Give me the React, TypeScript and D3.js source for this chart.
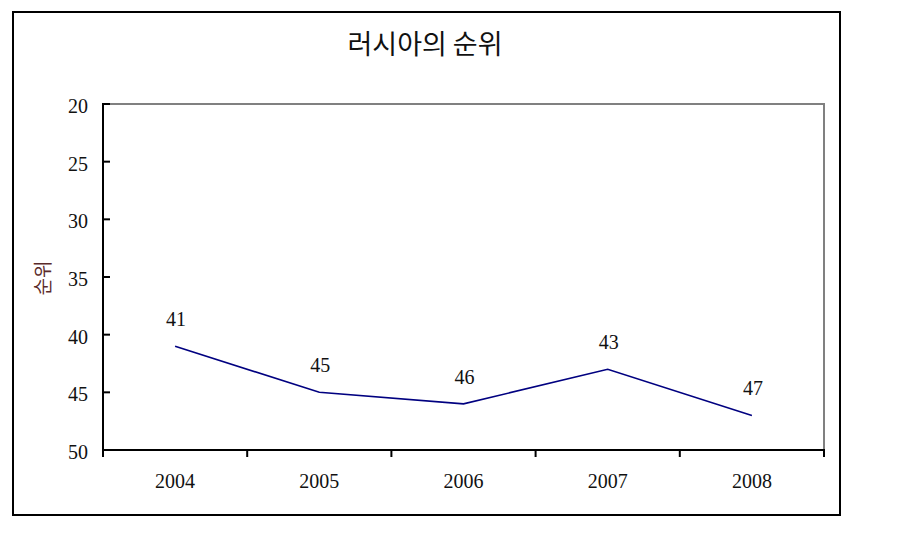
import { useEffect, useRef } from "react";
import * as d3 from "d3";

const years = ["2004", "2005", "2006", "2007", "2008"];
const ranks = [41, 45, 46, 43, 47];
const yTicks = [20, 25, 30, 35, 40, 45, 50];
const title = "러시아의 순위";
const yTitle = "순위";

export default function App() {
  const svgRef = useRef<SVGSVGElement | null>(null);

  useEffect(() => {
    const width = 898;
    const height = 546;
    const plot = { left: 103, right: 824, top: 104, bottom: 450 };
    const numFont = "'Liberation Serif', 'DejaVu Serif', serif";
    const krFont = "'Noto Sans CJK KR', sans-serif";

    const svg = d3.select(svgRef.current);
    svg.selectAll("*").remove();

    svg
      .append("rect")
      .attr("x", 13)
      .attr("y", 12)
      .attr("width", 827)
      .attr("height", 503)
      .attr("fill", "white")
      .attr("stroke", "black")
      .attr("stroke-width", 2);

    const x = d3.scaleBand().domain(years).range([plot.left, plot.right]);
    const y = d3.scaleLinear().domain([20, 50]).range([plot.top, plot.bottom]);

    // gray top and right frame
    svg
      .append("path")
      .attr("d", `M${plot.left},${plot.top}H${plot.right}V${plot.bottom}`)
      .attr("fill", "none")
      .attr("stroke", "#808080")
      .attr("stroke-width", 2);

    // y axis, ticks inside
    const yAxis = svg.append("g").attr("transform", `translate(${plot.left},0)`);
    yAxis
      .append("line")
      .attr("y1", plot.top - 1)
      .attr("y2", plot.bottom)
      .attr("stroke", "black")
      .attr("stroke-width", 2);
    yAxis
      .selectAll("line.tick")
      .data(yTicks)
      .join("line")
      .attr("class", "tick")
      .attr("x1", 0)
      .attr("x2", 7)
      .attr("y1", (d) => y(d))
      .attr("y2", (d) => y(d))
      .attr("stroke", "black")
      .attr("stroke-width", 2);
    yAxis
      .selectAll("text")
      .data(yTicks)
      .join("text")
      .attr("x", -15)
      .attr("y", (d) => y(d) + 9)
      .attr("text-anchor", "end")
      .attr("font-family", numFont)
      .attr("font-size", 20)
      .attr("fill", "#111")
      .text((d) => d);

    // x axis, boundary ticks below
    const xAxis = svg.append("g").attr("transform", `translate(0,${plot.bottom})`);
    xAxis
      .append("line")
      .attr("x1", plot.left - 1)
      .attr("x2", plot.right + 1)
      .attr("stroke", "black")
      .attr("stroke-width", 2);
    const bounds = years.map((d) => x(d) as number).concat([plot.right]);
    xAxis
      .selectAll("line.tick")
      .data(bounds)
      .join("line")
      .attr("class", "tick")
      .attr("x1", (d) => d)
      .attr("x2", (d) => d)
      .attr("y1", 0)
      .attr("y2", 7)
      .attr("stroke", "black")
      .attr("stroke-width", 2);
    xAxis
      .selectAll("text")
      .data(years)
      .join("text")
      .attr("x", (d) => (x(d) as number) + x.bandwidth() / 2)
      .attr("y", 38)
      .attr("text-anchor", "middle")
      .attr("font-family", numFont)
      .attr("font-size", 20)
      .attr("fill", "#111")
      .text((d) => d);

    const cx = (d: string) => (x(d) as number) + x.bandwidth() / 2;
    const series = years.map((d, i) => ({ year: d, rank: ranks[i] }));

    const line = d3
      .line<{ year: string; rank: number }>()
      .x((d) => cx(d.year))
      .y((d) => y(d.rank));

    svg
      .append("path")
      .datum(series)
      .attr("d", line)
      .attr("fill", "none")
      .attr("stroke", "#000080")
      .attr("stroke-width", 1.6);

    svg
      .append("g")
      .selectAll("text")
      .data(series)
      .join("text")
      .attr("x", (d) => cx(d.year) + 1)
      .attr("y", (d) => y(d.rank) - 20)
      .attr("text-anchor", "middle")
      .attr("font-family", numFont)
      .attr("font-size", 20)
      .attr("fill", "#111")
      .text((d) => d.rank);

    svg
      .append("text")
      .attr("x", 425)
      .attr("y", 54)
      .attr("text-anchor", "middle")
      .attr("font-family", krFont)
      .attr("font-size", 27)
      .attr("fill", "#111")
      .text(title);

    svg
      .append("text")
      .attr("transform", `translate(50,278) rotate(-90)`)
      .attr("text-anchor", "middle")
      .attr("font-family", krFont)
      .attr("font-size", 19)
      .attr("fill", "#5a2a2a")
      .text(yTitle);

    svg.attr("viewBox", `0 0 ${width} ${height}`);
  }, []);

  return (
    <svg
      ref={svgRef}
      width={898}
      height={546}
      style={{ position: "absolute", left: 0, top: 0, display: "block" }}
    />
  );
}
